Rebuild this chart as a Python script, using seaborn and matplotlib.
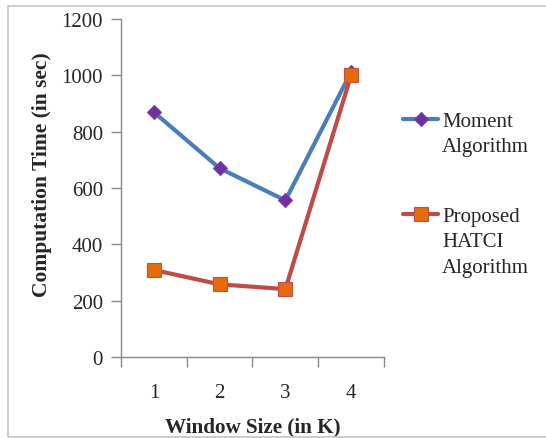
import matplotlib
matplotlib.use("Agg")
import matplotlib.pyplot as plt
import matplotlib.patches as mpatches
from matplotlib.lines import Line2D
import seaborn as sns
import pandas as pd
from matplotlib.ticker import FixedLocator, NullFormatter, FixedFormatter

window_sizes = [1, 2, 3, 4]
moment_values = [869, 670, 556, 1012]
hatci_values = [309, 258, 241, 1000]
series_names = ["Moment\nAlgorithm", "Proposed\nHATCI\nAlgorithm"]
y_ticks = [0, 200, 400, 600, 800, 1000, 1200]

df = pd.DataFrame({
    "Window": window_sizes * 2,
    "Time": moment_values + hatci_values,
    "Series": [series_names[0]] * 4 + [series_names[1]] * 4,
})

sns.set_style("white")
plt.rcParams["font.family"] = ["Liberation Serif", "DejaVu Serif"]

W, H = 546, 439
fig = plt.figure(figsize=(W / 100, H / 100), dpi=100)
ax = fig.add_axes([121 / W, 1 - 358 / H, (384 - 121) / W, (358 - 20) / H])

line_colors = ["#4A7EBB", "#BE4B48"]
markers = ["D", "s"]
marker_face = ["#7030A0", "#E46C0A"]
marker_edge = ["#7A3FA8", "#C0504D"]
marker_sizes = [7.5, 9.5]

for i, name in enumerate(series_names):
    sub = df[df["Series"] == name]
    sns.lineplot(data=sub, x="Window", y="Time", ax=ax, color=line_colors[i],
                 linewidth=3, marker=markers[i], markersize=marker_sizes[i],
                 markerfacecolor=marker_face[i], markeredgecolor=marker_edge[i],
                 markeredgewidth=0.8, legend=False)

ax.set_xlim(0.5, 4.5)
ax.set_ylim(0, 1200)
ax.xaxis.set_major_locator(FixedLocator([0.5, 1.5, 2.5, 3.5, 4.5]))
ax.xaxis.set_major_formatter(NullFormatter())
ax.xaxis.set_minor_locator(FixedLocator(window_sizes))
ax.xaxis.set_minor_formatter(FixedFormatter([str(w) for w in window_sizes]))
ax.set_yticks(y_ticks)
ax.set_yticklabels([str(t) for t in y_ticks])

ax.tick_params(axis="x", which="major", direction="out", length=7, width=1, color="#898989", bottom=True)
ax.tick_params(axis="x", which="minor", length=0, pad=19, labelsize=15, bottom=True)
ax.tick_params(axis="y", which="major", direction="out", length=7, width=1, color="#898989", pad=6, labelsize=15, left=True)

for s in ["top", "right"]:
    ax.spines[s].set_visible(False)
for s in ["left", "bottom"]:
    ax.spines[s].set_color("#898989")
    ax.spines[s].set_linewidth(1)

ax.set_xlabel("Window Size (in K)", fontsize=15.2, fontweight="bold", labelpad=10)
ax.set_ylabel("Computation Time (in sec)", fontsize=15.5, fontweight="bold")
ax.yaxis.set_label_coords(-0.262, 0.544)

# Legend (manual, marker aligned with first text line)
legend_rows = [120, 215]
for i, name in enumerate(series_names):
    yf = 1 - legend_rows[i] / H
    fig.add_artist(Line2D([403 / W, 438 / W], [yf, yf], transform=fig.transFigure,
                          color=line_colors[i], linewidth=3))
    fig.add_artist(Line2D([420.5 / W], [yf], transform=fig.transFigure,
                          marker=markers[i], markersize=marker_sizes[i],
                          markerfacecolor=marker_face[i], markeredgecolor=marker_edge[i],
                          markeredgewidth=0.8, linestyle="none"))
    fig.text(442 / W, 1 - (legend_rows[i] - 7) / H, name, fontsize=15, va="top", ha="left",
             linespacing=1.45)

# Outer frame
fig.add_artist(mpatches.Rectangle((8 / W, 1 - 437.5 / H), 1, (437.5 - 7) / H,
                                  transform=fig.transFigure, fill=False,
                                  edgecolor="#C4C4C4", linewidth=1.2))

fig.savefig("out.png", dpi=100)
